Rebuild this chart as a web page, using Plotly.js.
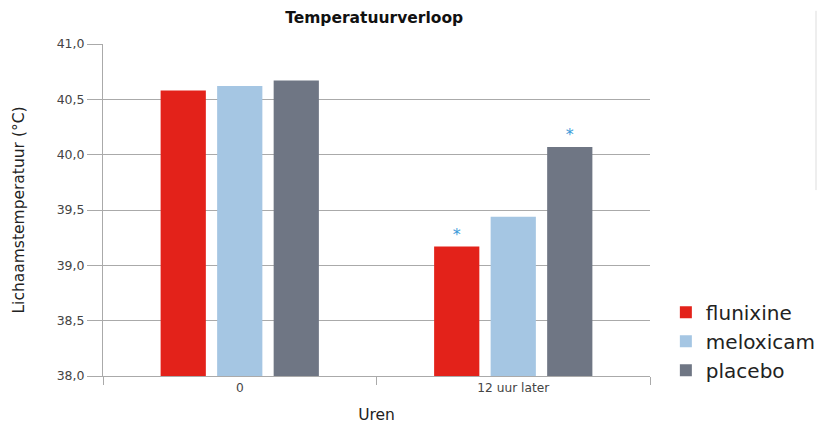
<!DOCTYPE html>
<html>
<head>
<meta charset="utf-8">
<script src="https://cdn.plot.ly/plotly-3.0.1.min.js"></script>
<style>html,body{margin:0;padding:0;background:#fff;}#chart{width:817px;height:425px;}</style>
</head>
<body>
<div id="chart"></div>
<script>
var categories = ['0', '12 uur later'];
var seriesNames = ['flunixine', 'meloxicam', 'placebo'];
var flunixine = [40.58, 39.17];
var meloxicam = [40.62, 39.44];
var placebo = [40.67, 40.07];
var flunixineMarks = ['', '*'];
var meloxicamMarks = ['', ''];
var placeboMarks = ['', '*'];
var yTicks = [38.0, 38.5, 39.0, 39.5, 40.0, 40.5, 41.0];

var colors = ['#E3221A', '#A5C6E3', '#6F7684'];
var values = [flunixine, meloxicam, placebo];
var marks = [flunixineMarks, meloxicamMarks, placeboMarks];
var FONT = 'DejaVu Sans, Verdana, sans-serif';

var traces = seriesNames.map(function(name, i) {
  return {
    type: 'bar',
    name: name,
    x: categories,
    y: values[i],
    text: marks[i],
    textposition: 'outside',
    cliponaxis: false,
    textfont: {color: '#3A9AD9', size: 16, family: FONT},
    marker: {color: colors[i]},
    hoverinfo: 'x+y+name'
  };
});

var layout = {
  width: 817, height: 425,
  margin: {l: 103, r: 167, t: 44, b: 49, autoexpand: false},
  paper_bgcolor: '#fff', plot_bgcolor: '#fff',
  separators: ',.',
  barmode: 'group',
  bargap: 0.38,
  bargroupgap: 0.2,
  font: {family: FONT, color: '#444'},
  title: {text: '<b>Temperatuurverloop</b>', x: 0.458, xanchor: 'center', y: 0.958, yanchor: 'middle',
          font: {size: 15.5, color: '#111', family: FONT}},
  xaxis: {
    type: 'category',
    tickson: 'boundaries',
    ticks: 'outside', ticklen: 8, tickcolor: '#aaa', tickwidth: 1,
    showline: true, linecolor: '#aaa', linewidth: 1,
    showgrid: false,
    tickfont: {size: 12.2, color: '#444'},
    title: {text: 'Uren', font: {size: 15.5, color: '#222'}, standoff: 15}
  },
  yaxis: {
    range: [38, 41],
    tickvals: yTicks,
    tickformat: '.1f',
    ticks: 'outside', ticklen: 15, tickcolor: '#aaa', tickwidth: 1,
    showline: true, linecolor: '#aaa', linewidth: 1,
    showgrid: true, gridcolor: '#aaa', gridwidth: 1,
    zeroline: false,
    tickfont: {size: 12.5, color: '#444'},
    title: {text: 'Lichaamstemperatuur (°C)', font: {size: 15.5, color: '#222'}, standoff: 28}
  },
  legend: {
    x: 1.029, xanchor: 'left', y: 0.105, yanchor: 'middle',
    font: {size: 20, color: '#222'},
    tracegroupgap: 0,
    itemwidth: 30
  },
  shapes: [{
    type: 'line', xref: 'paper', yref: 'paper',
    x0: 1.3035, x1: 1.3035, y0: 0.56, y1: 1.10,
    line: {color: '#ddd', width: 1}
  }],
  showlegend: true
};

Plotly.newPlot('chart', traces, layout, {displayModeBar: false, staticPlot: true});
</script>
</body>
</html>
